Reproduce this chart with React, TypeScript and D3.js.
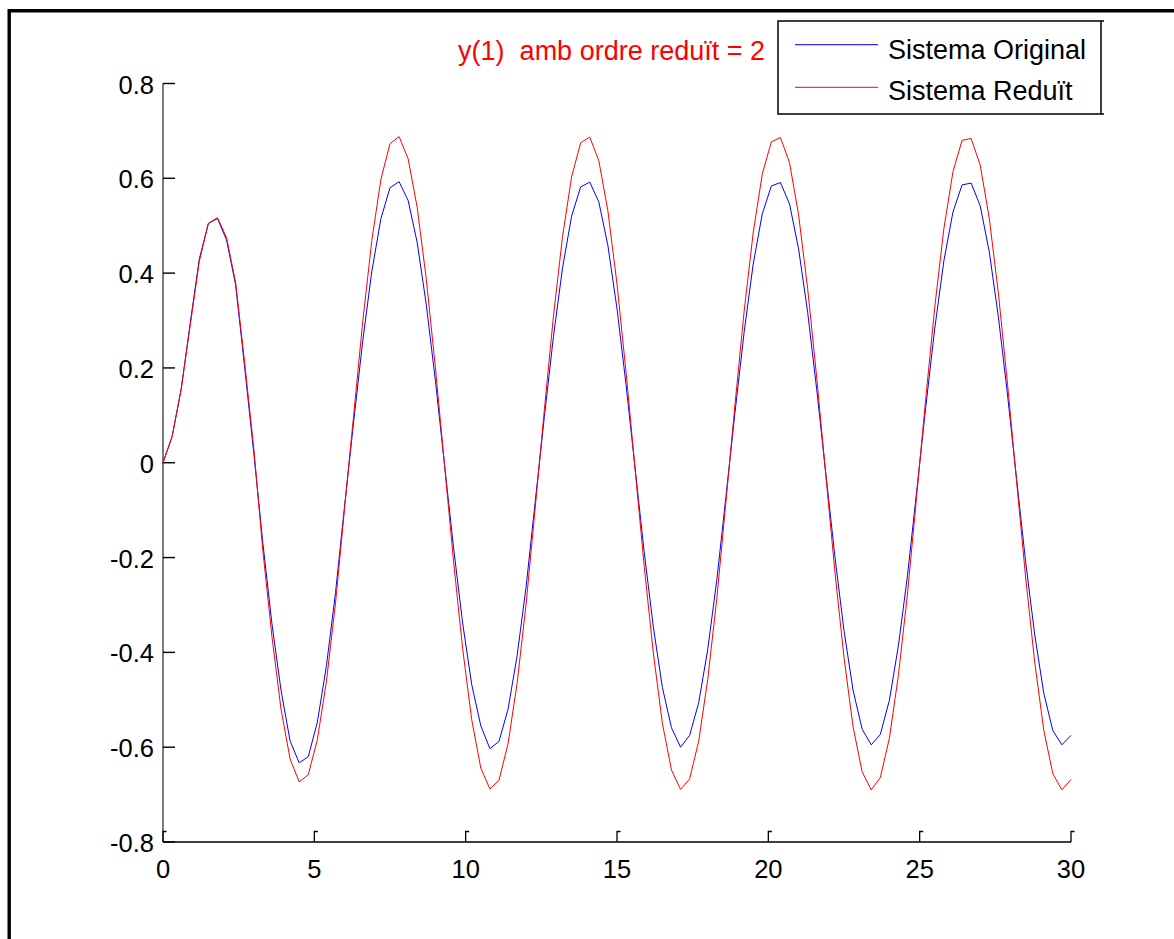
import React from "react";
import * as d3 from "d3";

const STEP = 0.3;
const blueValues = [
  0, 0.055, 0.155, 0.295, 0.43, 0.505, 0.515, 0.47, 0.375, 0.2, 0.02,
  -0.17, -0.34, -0.48, -0.587, -0.633, -0.62, -0.547, -0.428, -0.274, -0.091,
  0.087, 0.257, 0.404, 0.515, 0.58, 0.593, 0.553, 0.464, 0.333, 0.173,
  -0.003, -0.179, -0.338, -0.468, -0.555, -0.603, -0.588, -0.52, -0.407, -0.26,
  -0.081, 0.097, 0.266, 0.411, 0.52, 0.582, 0.592, 0.55, 0.458, 0.325,
  0.164, -0.013, -0.189, -0.346, -0.474, -0.559, -0.6, -0.575, -0.506, -0.393,
  -0.246, -0.071, 0.107, 0.275, 0.419, 0.525, 0.584, 0.591, 0.546, 0.451,
  0.317, 0.154, -0.023, -0.198, -0.354, -0.48, -0.562, -0.595, -0.573, -0.501,
  -0.385, -0.237, -0.061, 0.117, 0.284, 0.426, 0.529, 0.586, 0.59, 0.542,
  0.445, 0.308, 0.145, -0.033, -0.208, -0.362, -0.486, -0.565, -0.595, -0.575,
];
const redValues = [
  0, 0.055, 0.155, 0.29, 0.425, 0.505, 0.517, 0.475, 0.38, 0.21, 0.03,
  -0.186, -0.367, -0.52, -0.625, -0.673, -0.658, -0.584, -0.461, -0.296, -0.095,
  0.101, 0.298, 0.469, 0.598, 0.673, 0.688, 0.641, 0.538, 0.387, 0.201,
  -0.004, -0.208, -0.392, -0.542, -0.644, -0.688, -0.67, -0.593, -0.465, -0.296,
  -0.094, 0.112, 0.309, 0.477, 0.603, 0.675, 0.687, 0.637, 0.531, 0.377,
  0.19, -0.015, -0.219, -0.401, -0.55, -0.648, -0.689, -0.667, -0.587, -0.456,
  -0.285, -0.082, 0.124, 0.319, 0.485, 0.609, 0.677, 0.686, 0.633, 0.523,
  0.367, 0.179, -0.027, -0.23, -0.411, -0.557, -0.652, -0.69, -0.664, -0.581,
  -0.447, -0.275, -0.071, 0.135, 0.329, 0.494, 0.614, 0.68, 0.684, 0.628,
  0.516, 0.358, 0.168, -0.038, -0.241, -0.42, -0.564, -0.656, -0.69, -0.668,
];
const xTicks = [0, 5, 10, 15, 20, 25, 30];
const yTicks = [0.8, 0.6, 0.4, 0.2, 0, -0.2, -0.4, -0.6, -0.8];
const yTickLabels = ["0.8", "0.6", "0.4", "0.2", "0", "-0.2", "-0.4", "-0.6", "-0.8"];
const seriesNames = ["Sistema Original", "Sistema Reduït"];
const seriesColors = ["#0000ff", "#ff0000"];
const titleText = "y(1)  amb ordre reduït = 2";

const W = 1174;
const H = 939;
const FONT = "'Liberation Sans', Arial, Helvetica, sans-serif";

export default function App() {
  const x = d3.scaleLinear().domain([0, 30]).range([163, 1071]);
  const y = d3.scaleLinear().domain([-0.8, 0.8]).range([842, 83.5]);
  const line = d3
    .line<number>()
    .x((_, i) => x(Math.round(i * STEP * 10) / 10))
    .y((d) => y(d));
  const series = [blueValues, redValues];

  return (
    <svg
      width={W}
      height={H}
      style={{ position: "absolute", left: 0, top: 0, display: "block", background: "#fff" }}
      fontFamily={FONT}
    >
      <rect x={0} y={0} width={W} height={H} fill="#fff" />
      {/* outer frame */}
      <path d={`M9.2,${H} V10.8 H${W}`} fill="none" stroke="#000" strokeWidth={3.4} />

      {/* axes */}
      <line x1={x(0)} x2={x(0)} y1={y(0.8)} y2={y(-0.8)} stroke="#222" strokeWidth={1.2} />
      <line x1={x(0)} x2={x(30)} y1={y(-0.8)} y2={y(-0.8)} stroke="#000" strokeWidth={1.4} />

      {yTicks.map((t, i) => (
        <g key={"y" + i}>
          <path d={`M${x(0)},${y(t)} h12`} stroke="#000" strokeWidth={1.4} fill="none" />
          <text x={154} y={y(t) + 10} fontSize={25.5} textAnchor="end" fill="#000">
            {yTickLabels[i]}
          </text>
        </g>
      ))}
      {xTicks.map((t, i) => (
        <g key={"x" + i}>
          <path
            d={`M${x(t)},${y(-0.8)} v-10.5 h3.5`}
            stroke="#000"
            strokeWidth={1.3}
            fill="none"
          />
          <text x={x(t)} y={y(-0.8) + 35.5} fontSize={25.5} textAnchor="middle" fill="#000">
            {t}
          </text>
        </g>
      ))}

      {/* series */}
      {series.map((s, i) => (
        <path key={"s" + i} d={line(s) || ""} fill="none" stroke={seriesColors[i]} strokeWidth={1} />
      ))}

      {/* title */}
      <text
        x={765}
        y={60}
        fontSize={27}
        textAnchor="end"
        fill="#ff0000"
        style={{ whiteSpace: "pre" }}
        xmlSpace="preserve"
      >
        {titleText}
      </text>

      {/* legend */}
      <rect x={778} y={21} width={323} height={93} fill="#fff" stroke="#000" strokeWidth={1.5} />
      <path d="M1101,21 h3 M1101,114 h3" stroke="#000" strokeWidth={1.5} />
      {seriesNames.map((n, i) => (
        <g key={"l" + i}>
          <line
            x1={795}
            x2={878}
            y1={44.7 + i * 42.6}
            y2={44.7 + i * 42.6}
            stroke={seriesColors[i]}
            strokeWidth={1}
          />
          <text x={888} y={59.3 + i * 41} fontSize={27} fill="#000">
            {n}
          </text>
        </g>
      ))}
    </svg>
  );
}
